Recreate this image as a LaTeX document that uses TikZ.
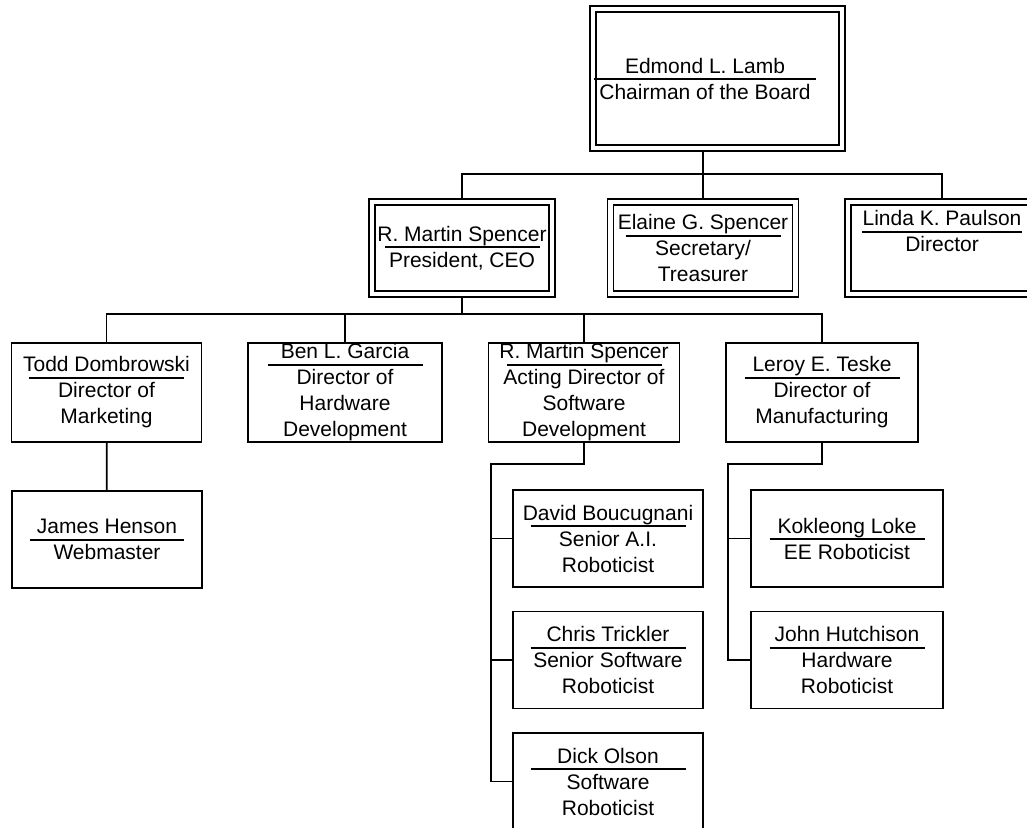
\documentclass[tikz,border=0pt]{standalone}
\usepackage{fontspec}
\setmainfont{Liberation Sans}
\usepackage{tikz}

% name, rule, title
\newcommand{\pos}[3][77.5pt]{#2\\[-9.5pt]\rule{#1}{0.9pt}\\[-3.5pt]#3}

\begin{document}
\begin{tikzpicture}[x=0.5pt,y=-0.5pt]
            \tikzset{Officer/.style={%
                    shape=rectangle,%
                    draw=black,%
                    double,%
                    double distance=2.1pt,%
                    line width=0.75pt,%
                    inner sep=0pt,%
                    outer sep=1.45pt,%
                    minimum height=46pt,%
                    align=center,%
                    font={\fontsize{10.5pt}{13pt}\selectfont},%
                },
                Staff/.style={%
                    shape=rectangle,%
                    draw=black,%
                    line width=0.95pt,%
                    inner sep=0pt,%
                    minimum width=95pt,%
                    minimum height=48.5pt,%
                    align=center,%
                    font={\fontsize{10.5pt}{13pt}\selectfont},%
                },
                Title/.style={%
                    inner sep=0pt,%
                    align=center,%
                    font={\fontsize{10.5pt}{13pt}\selectfont},%
                },
                Link/.style={line width=0.85pt}}

                \useasboundingbox (0,0) rectangle (1027,827);
                \clip (0,0) rectangle (1027,827);

                \node[Officer,minimum width=124.5pt,minimum height=69.5pt,
                    label={[Title,xshift=-6.25pt]center:\pos[111pt]{Edmond L. Lamb}{Chairman of the Board}}] (lamb) at (717.5,78.5) {};

                \node[Officer,minimum width=90pt] (ceo) at (462,248) {\pos{R. Martin Spencer}{President, CEO}};
                \node[Officer,minimum width=92.5pt] (elaine) at (703,248) {\pos{Elaine G. Spencer}{Secretary/\\Treasurer}};
                \node[Officer,minimum width=94pt] (linda) at (942,248) {\pos[80pt]{Linda K. Paulson}{Director\\\strut}};

                \node[Staff,minimum height=49.5pt] (todd) at (106.5,392.5) {\pos{Todd Dombrowski}{Director of\\Marketing}};
                \node[Staff,minimum height=49.5pt,minimum width=97pt] (ben) at (345,392.5) {\pos{Ben L. Garcia}{Director of\\Hardware\\Development}};
                \node[Staff,minimum height=49.5pt,minimum width=95.5pt] (acting) at (584,392.5) {\pos{R. Martin Spencer}{Acting Director of\\Software\\Development}};
                \node[Staff,minimum height=49.5pt,minimum width=96pt] (leroy) at (822,392.5) {\pos{Leroy E. Teske}{Director of\\Manufacturing}};

                \node[Staff] (james) at (107,539.5) {\pos{James Henson}{Webmaster}};
                \node[Staff] (david) at (608,538.5) {\pos{David Boucugnani}{Senior A.I.\\Roboticist}};
                \node[Staff] (chris) at (608,660) {\pos{Chris Trickler}{Senior Software\\Roboticist}};
                \node[Staff] (dick) at (608,781.5) {\pos{Dick Olson}{Software\\Roboticist}};
                \node[Staff,minimum width=96pt] (kok) at (847,538.5) {\pos{Kokleong Loke}{EE Roboticist}};
                \node[Staff,minimum width=96pt] (john) at (847,660) {\pos{John Hutchison}{Hardware\\Roboticist}};

                \coordinate (busA) at (0,174);
                \coordinate (busB) at (0,314);
                \coordinate (softbar) at (491,464);
                \coordinate (mfgbar) at (728,464);

                \draw[Link] (elaine.north) -- (elaine.north |- lamb.south);
                \draw[Link] (ceo.north) -- (ceo.north |- busA) -| (linda.north);
                \draw[Link] (ceo.south) -- (ceo.south |- busB);
                \draw[Link] (todd.north) -- (todd.north |- busB) -| (leroy.north);
                \draw[Link] (ben.north) -- (ben.north |- busB);
                \draw[Link] (acting.north) -- (acting.north |- busB);
                \draw[Link] (todd) -- (james);
                \draw[Link] (acting.south) |- (softbar) |- (dick.west);
                \draw[Link] (david.west) -- (david.west -| softbar);
                \draw[Link] (chris.west) -- (chris.west -| softbar);
                \draw[Link] (leroy.south) |- (mfgbar) |- (john.west);
                \draw[Link] (kok.west) -- (kok.west -| mfgbar);
\end{tikzpicture}
\end{document}
